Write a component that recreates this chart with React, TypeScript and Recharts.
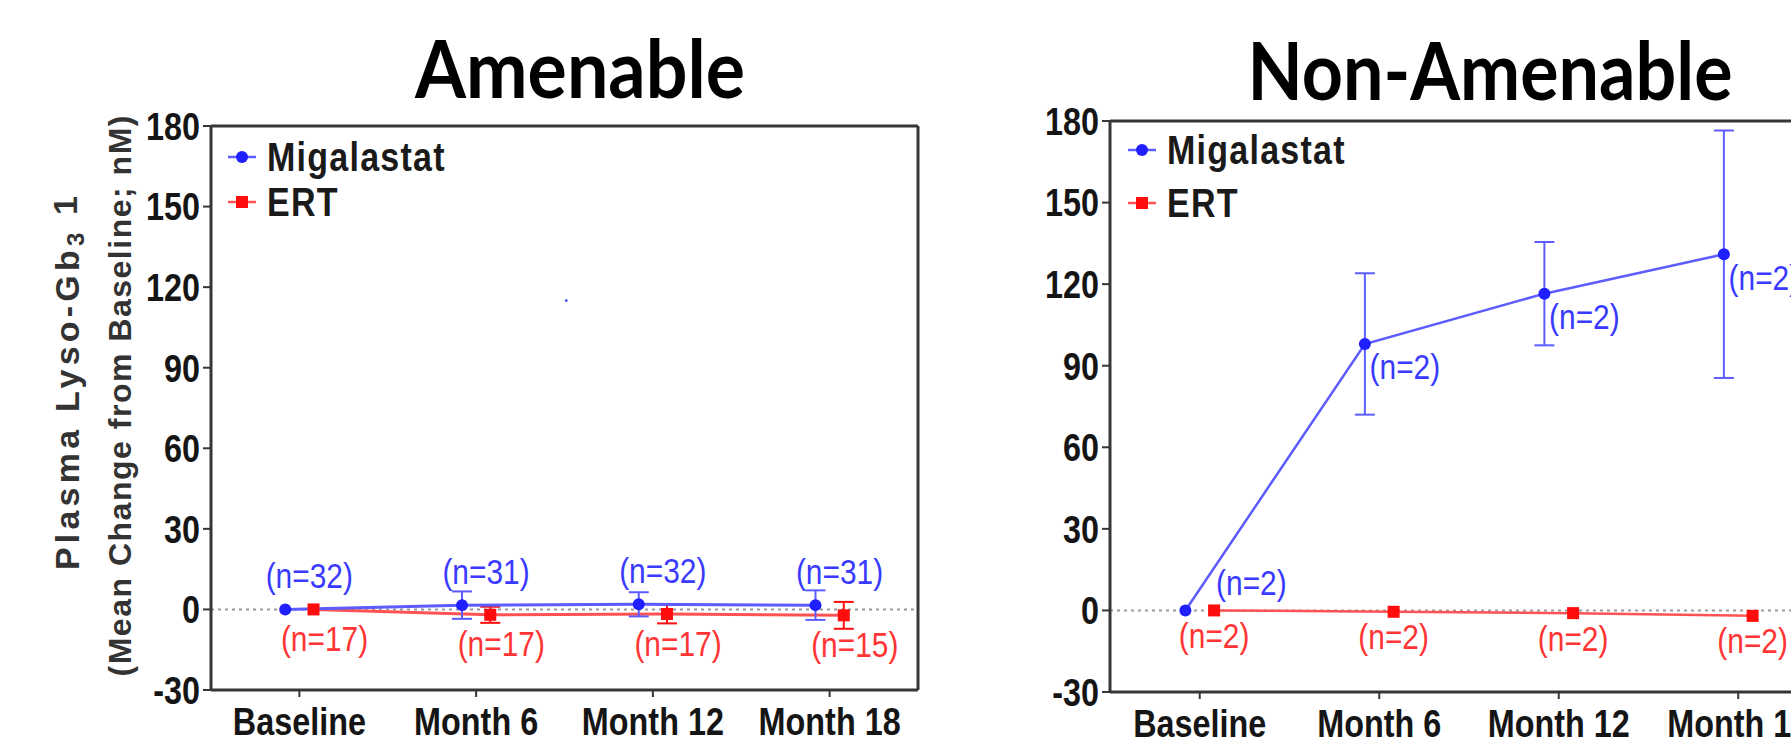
import React from 'react';
import { LineChart, Line, XAxis, YAxis, ErrorBar, ReferenceLine, ReferenceDot, Legend } from 'recharts';

// ---------- data ----------
const categories = ['Baseline', 'Month 6', 'Month 12', 'Month 18'];
const yTicks = [-30, 0, 30, 60, 90, 120, 150, 180];
const seriesNames = ['Migalastat', 'ERT'];

// Amenable panel
const amenMigMean = [0, 1.6, 1.9, 1.6];
const amenMigErr = [0, 5.1, 4.5, 5.5];
const amenMigN = ['(n=32)', '(n=31)', '(n=32)', '(n=31)'];
const amenErtMean = [0, -2.0, -1.7, -2.2];
const amenErtErr = [0, 3.0, 3.5, 5.0];
const amenErtN = ['(n=17)', '(n=17)', '(n=17)', '(n=15)'];
const amenStraySpeck = { x: 1.51, y: 115 };

// Non-Amenable panel
const nonMigMean = [0, 98, 116.5, 131];
const nonMigErr = [0, 26, 19, 45.5];
const nonMigN = ['(n=2)', '(n=2)', '(n=2)', '(n=2)'];
const nonErtMean = [0, -0.5, -1, -2];
const nonErtErr = [0, 0, 0, 0];
const nonErtN = ['(n=2)', '(n=2)', '(n=2)', '(n=2)'];

// ---------- styles ----------
const SANS = "'Liberation Sans', Arial, sans-serif";
const TITLE = "Lato, 'Open Sans', sans-serif";
const SX = 0.83; // horizontal squeeze of the narrow-looking type
const BLUE = '#1f1fff';
const BLUE_TXT = '#3a3aff';
const BLUE_LINE = '#5c5cff';
const RED = '#ff0d0d';
const RED_TXT = '#ff3535';
const RED_LINE = '#ff5252';
const AXIS = '#363636';
const SHIFT = 0.08;

type Pt = { x: number; y: number; err: number; n: string };
const build = (mean: number[], err: number[], n: string[], shift: number): Pt[] =>
  mean.map((v, i) => ({ x: i + shift, y: v, err: err[i], n: n[i] }));

const amenMig = build(amenMigMean, amenMigErr, amenMigN, -SHIFT);
const amenErt = build(amenErtMean, amenErtErr, amenErtN, SHIFT);
const nonMig = build(nonMigMean, nonMigErr, nonMigN, -SHIFT);
const nonErt = build(nonErtMean, nonErtErr, nonErtN, SHIFT);

type Place = (i: number) => { dx: number; dy: number };

const NarrowText = ({ x, y, anchor, children, ...rest }: any) => (
  <text transform={`translate(${x},${y}) scale(${SX},1)`} x={0} y={0} textAnchor={anchor} {...rest}>
    {children}
  </text>
);

const makeDot = (shape: 'circle' | 'square', color: string, txtColor: string, place: Place, size: number) =>
  (p: any) => {
    const { cx, cy, index, payload } = p;
    if (cx == null || cy == null) return <g key={`d${index}`} />;
    const { dx, dy } = place(index);
    return (
      <g key={`d${index}`}>
        {shape === 'circle' ? (
          <circle cx={cx} cy={cy} r={size} fill={color} stroke="none" />
        ) : (
          <rect x={cx - size} y={cy - size} width={size * 2} height={size * 2} fill={color} stroke="none" />
        )}
        <NarrowText
          x={cx + dx}
          y={cy + dy}
          anchor="middle"
          fill={txtColor}
          fontSize={36}
          fontFamily={SANS}
          dominantBaseline="central"
        >
          {payload.n}
        </NarrowText>
      </g>
    );
  };

const LegendBox = ({ rowGap }: { rowGap: number }) => (
  <svg width={260} height={110} style={{ overflow: 'visible' }}>
    {seriesNames.map((name, i) => {
      const cy = 27 + i * rowGap;
      const color = i === 0 ? BLUE : RED;
      const lineColor = i === 0 ? BLUE_LINE : RED_LINE;
      return (
        <g key={name}>
          <line x1={8} x2={36} y1={cy} y2={cy} stroke={lineColor} strokeWidth={2.5} />
          {i === 0 ? (
            <circle cx={22} cy={cy} r={6} fill={color} />
          ) : (
            <rect x={16} y={cy - 6} width={12} height={12} fill={color} />
          )}
          <NarrowText
            x={47}
            y={cy}
            anchor="start"
            dominantBaseline="central"
            fontFamily={SANS}
            fontWeight="bold"
            fontSize={41}
            letterSpacing={1.5}
            fill="#1a1a1a"
          >
            {name}
          </NarrowText>
        </g>
      );
    })}
  </svg>
);

const tickFont = { fontFamily: SANS, fontWeight: 'bold' as const, fontSize: 39, fill: '#151515' };

const XTick = (props: any) => {
  const { x, y, payload } = props;
  return (
    <NarrowText x={x} y={y} anchor="middle" dy="0.71em" {...tickFont}>
      {categories[payload.value] ?? ''}
    </NarrowText>
  );
};

const YTick = (props: any) => {
  const { x, y, payload } = props;
  return (
    <NarrowText x={x} y={y} anchor="end" dy="0.355em" {...tickFont}>
      {String(payload.value)}
    </NarrowText>
  );
};

const Panel = ({ width, margin, mig, ert, migPlace, ertPlace, legendPos, rowGap, lineW, speck }: any) => (
  <LineChart width={width} height={745} margin={margin}>
    <XAxis
      dataKey="x"
      type="number"
      domain={[-0.5, 3.5]}
      ticks={[0, 1, 2, 3]}
      allowDataOverflow
      height={50}
      axisLine={{ stroke: AXIS, strokeWidth: 3 }}
      tickLine={{ stroke: AXIS, strokeWidth: 2 }}
      tickSize={7}
      tickMargin={10}
      tick={XTick}
      interval={0}
    />
    <YAxis
      type="number"
      domain={[-30, 180]}
      ticks={yTicks}
      allowDataOverflow
      width={80}
      axisLine={{ stroke: AXIS, strokeWidth: 3 }}
      tickLine={{ stroke: AXIS, strokeWidth: 2 }}
      tickSize={8}
      tickMargin={3}
      tick={YTick}
      interval={0}
    />
    <ReferenceLine y={180} stroke={AXIS} strokeWidth={3} />
    <ReferenceLine x={3.5} stroke={AXIS} strokeWidth={3} />
    <ReferenceLine y={0} stroke="#9a9a9a" strokeWidth={2} strokeDasharray="3 4" />
    {speck ? <ReferenceDot x={speck.x} y={speck.y} r={1.5} fill={BLUE_LINE} stroke="none" /> : null}
    <Legend
      layout="horizontal"
      verticalAlign="middle"
      align="center"
      wrapperStyle={{ left: legendPos.left, top: legendPos.top, width: 260, height: 110 }}
      content={() => <LegendBox rowGap={rowGap} />}
    />
    <Line
      data={ert}
      dataKey="y"
      name="ERT"
      stroke={RED_LINE}
      strokeWidth={lineW}
      isAnimationActive={false}
      dot={makeDot('square', RED, RED_TXT, ertPlace, 6)}
      activeDot={false}
    >
      <ErrorBar dataKey="err" direction="y" width={10} stroke={RED} strokeWidth={2} />
    </Line>
    <Line
      data={mig}
      dataKey="y"
      name="Migalastat"
      stroke={BLUE_LINE}
      strokeWidth={lineW}
      isAnimationActive={false}
      dot={makeDot('circle', BLUE, BLUE_TXT, migPlace, 6)}
      activeDot={false}
    >
      <ErrorBar dataKey="err" direction="y" width={10} stroke={BLUE_LINE} strokeWidth={2} />
    </Line>
  </LineChart>
);

export default function App() {
  return (
    <div
      style={{
        position: 'absolute',
        left: 0,
        top: 0,
        width: 1791,
        height: 745,
        overflow: 'hidden',
        background: '#ffffff',
      }}
    >
      <div style={{ position: 'absolute', left: 0, top: 0 }}>
        <Panel
          width={960}
          margin={{ top: 126, right: 42, bottom: 5, left: 131 }}
          mig={amenMig}
          ert={amenErt}
          migPlace={() => ({ dx: 24, dy: -34 })}
          ertPlace={() => ({ dx: 11, dy: 29 })}
          legendPos={{ left: 220, top: 130 }}
          rowGap={45}
          lineW={3}
          speck={amenStraySpeck}
        />
      </div>
      <div style={{ position: 'absolute', left: 960, top: 0 }}>
        <Panel
          width={880}
          margin={{ top: 121, right: 12, bottom: 3, left: 70 }}
          mig={nonMig}
          ert={nonErt}
          migPlace={(i: number) => (i === 0 ? { dx: 66, dy: -28 } : { dx: 40, dy: 23 })}
          ertPlace={() => ({ dx: 0, dy: 25 })}
          legendPos={{ left: 160, top: 123 }}
          rowGap={53}
          lineW={2.5}
          speck={null}
        />
      </div>
      <svg width={1791} height={745} style={{ position: 'absolute', left: 0, top: 0, pointerEvents: 'none' }}>
        <text
          x={580}
          y={98}
          textAnchor="middle"
          fontFamily={TITLE}
          fontWeight="bold"
          fontSize={80}
          textLength={330}
          lengthAdjust="spacingAndGlyphs"
          fill="#000"
        >
          Amenable
        </text>
        <text
          x={1490}
          y={100}
          textAnchor="middle"
          fontFamily={TITLE}
          fontWeight="bold"
          fontSize={80}
          textLength={485}
          lengthAdjust="spacingAndGlyphs"
          fill="#000"
        >
          Non-Amenable
        </text>
        <text
          transform="translate(66.5,383) rotate(-90)"
          textAnchor="middle"
          dominantBaseline="central"
          fontFamily={SANS}
          fontWeight="bold"
          fontSize={34}
          textLength={374}
          lengthAdjust="spacing"
          fill="#333"
        >
          Plasma Lyso-Gb
          <tspan fontSize={24} dy={8}>3</tspan>
          <tspan dy={-10}> 1</tspan>
        </text>
        <text
          transform="translate(119.6,396) rotate(-90)"
          textAnchor="middle"
          dominantBaseline="central"
          fontFamily={SANS}
          fontWeight="bold"
          fontSize={32}
          textLength={561}
          lengthAdjust="spacing"
          fill="#333"
        >
          (Mean Change from Baseline; nM)
        </text>
      </svg>
    </div>
  );
}
